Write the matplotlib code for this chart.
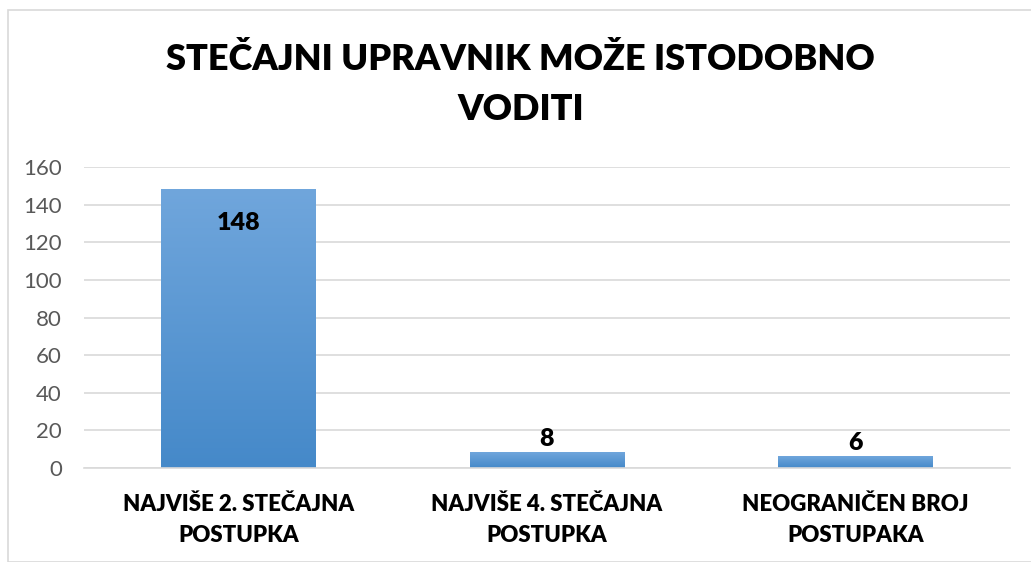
import numpy as np
import matplotlib.pyplot as plt
from matplotlib.patches import Rectangle
from matplotlib.colors import LinearSegmentedColormap

categories = ["NAJVIŠE 2. STEČAJNA\nPOSTUPKA", "NAJVIŠE 4. STEČAJNA\nPOSTUPKA", "NEOGRANIČEN BROJ\nPOSTUPAKA"]
values = [148, 8, 6]
title = "STEČAJNI UPRAVNIK MOŽE ISTODOBNO\nVODITI"

plt.rcParams['font.family'] = ['Lato', 'DejaVu Sans']

fig = plt.figure(figsize=(10.31, 5.62), dpi=100)
fig.patches.append(Rectangle((8/1031, 0), 1.0, 1 - 10/562, transform=fig.transFigure,
                             fill=False, edgecolor='#d9d9d9', linewidth=1.2))
ax = fig.add_axes([0.0815, 0.1673, 0.898, 0.5355])

x = np.arange(len(values))
bars = ax.bar(x, values, width=0.5, color='#5b9bd5', zorder=2)

# vertical gradient inside each bar (light top, darker bottom)
grad = np.linspace(0, 1, 256).reshape(-1, 1)
cmap = LinearSegmentedColormap.from_list('bar', ['#4589c9', '#70a6dc'])
for b in bars:
    b.set_facecolor('none')
    x0, w, h = b.get_x(), b.get_width(), b.get_height()
    ax.imshow(grad, cmap=cmap, origin='lower', aspect='auto',
              extent=(x0, x0 + w, 0, h), zorder=2)

ax.set_xlim(-0.5, len(values) - 0.5)
ax.set_ylim(0, 160)
ax.set_yticks(range(0, 161, 20))
ax.yaxis.grid(True, color='#d9d9d9', linewidth=1.2, zorder=0)
ax.set_axisbelow(True)
for s in ['top', 'right', 'left']:
    ax.spines[s].set_visible(False)
ax.spines['bottom'].set_color('#d9d9d9')
ax.spines['bottom'].set_linewidth(1.2)
ax.tick_params(axis='y', length=0, labelsize=16, labelcolor='#595959', pad=16)
ax.tick_params(axis='x', length=0, pad=19)
ax.set_xticks(x)
ax.set_xticklabels(categories, fontsize=16, fontweight='heavy', linespacing=1.55)

for i, v in enumerate(values):
    if v > 50:
        ax.annotate(str(v), (i, v), xytext=(0, -16), textcoords='offset points',
                    ha='center', va='top', fontsize=18, fontweight='heavy')
    else:
        ax.annotate(str(v), (i, v), xytext=(0, 2), textcoords='offset points',
                    ha='center', va='bottom', fontsize=18, fontweight='heavy')

fig.text(0.505, 0.85, title, ha='center', va='center', fontsize=26,
         fontweight='heavy', linespacing=1.62)

fig.savefig('out.png', dpi=100)
